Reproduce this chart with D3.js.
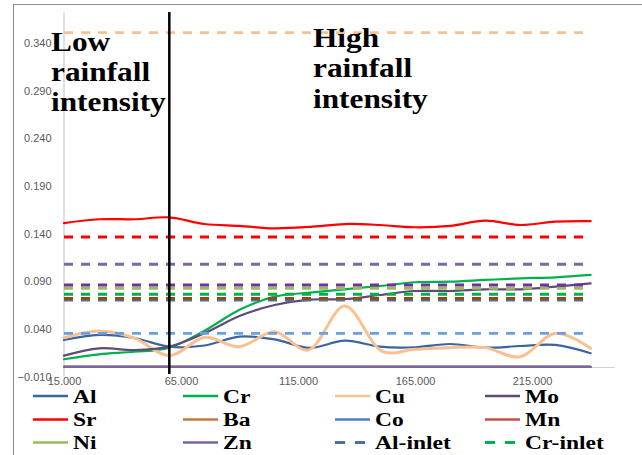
<!DOCTYPE html>
<html><head><meta charset="utf-8">
<script src="https://cdn.jsdelivr.net/npm/d3@7"></script>
<style>body{margin:0;background:#fff}svg{display:block}</style>
</head><body>
<svg id="chart" width="642" height="455"></svg>
<script>
// ---- data ----
const xValues = [15,30,45,60,75,90,105,120,135,150,165,180,195,210,225,240];
const Al = [0.0283,0.0336,0.0304,0.0213,0.0225,0.0318,0.0290,0.0200,0.0276,0.0213,0.0207,0.0241,0.0203,0.0220,0.0231,0.0144];
const Cr = [0.0081,0.0133,0.0160,0.0203,0.0380,0.0600,0.0738,0.0780,0.0815,0.0850,0.0889,0.0895,0.0913,0.0930,0.0940,0.0966];
const Cu = [0.0307,0.0378,0.0304,0.0119,0.0310,0.0213,0.0370,0.0182,0.0640,0.0178,0.0186,0.0203,0.0203,0.0108,0.0354,0.0196];
const Mo = [0.0119,0.0196,0.0178,0.0213,0.0354,0.0535,0.0650,0.0707,0.0712,0.0755,0.0797,0.0797,0.0815,0.0815,0.0843,0.0878];
const Sr = [0.1510,0.1550,0.1550,0.1570,0.1500,0.1480,0.1455,0.1470,0.1500,0.1490,0.1466,0.1480,0.1535,0.1490,0.1525,0.1530];
const Ba = [0,0,0,0,0,0,0,0,0,0,0,0,0,0,0,0];
const Co = [0,0,0,0,0,0,0,0,0,0,0,0,0,0,0,0];
const Mn = [0,0,0,0,0,0,0,0,0,0,0,0,0,0,0,0];
const Ni = [0,0,0,0,0,0,0,0,0,0,0,0,0,0,0,0];
const Zn = [0,0,0,0,0,0,0,0,0,0,0,0,0,0,0,0];
const seriesNames = ["Al","Cr","Cu","Mo","Sr","Ba","Co","Mn","Ni","Zn"];
const seriesValues = [Al,Cr,Cu,Mo,Sr,Ba,Co,Mn,Ni,Zn];
const inletNames = ["Al-inlet","Cr-inlet","Cu-inlet","Mo-inlet","Sr-inlet","Ba-inlet","Co-inlet","Ni-inlet","Zn-inlet"];
const inletValues = [0.0703,0.0763,0.3508,0.1078,0.1364,0.0720,0.0353,0.0826,0.0860];
const yTicks = [-0.010,0.040,0.090,0.140,0.190,0.240,0.290,0.340];
const xTicks = [15,65,115,165,215];
const legendNames = ["Al","Cr","Cu","Mo","Sr","Ba","Co","Mn","Ni","Zn","Al-inlet","Cr-inlet"];
const dividerX = 60;
const lowLabel = ["Low","rainfall","intensity"];
const highLabel = ["High","rainfall","intensity"];

// ---- styles ----
const colors = {
  "Al":"#3B64A0","Cr":"#00B050","Cu":"#FAC090","Mo":"#604A7B","Sr":"#FF0000",
  "Ba":"#C0783C","Co":"#4F81BD","Mn":"#C0504D","Ni":"#9BBB59","Zn":"#7E62A6",
  "Al-inlet":"#4A70AC","Cr-inlet":"#00B050","Cu-inlet":"#FAC090","Mo-inlet":"#7C68A0",
  "Sr-inlet":"#FF0000","Ba-inlet":"#984807","Co-inlet":"#6A9FE0","Ni-inlet":"#9BBB59","Zn-inlet":"#7030A0"
};
const widths = {"Cu":3};

const svg = d3.select("#chart");
svg.append("rect").attr("x",13.5).attr("y",4.5).attr("width",660).attr("height",480)
  .attr("fill","#fff").attr("stroke","#8c8c8c").attr("stroke-width",1);

const x = d3.scaleLinear().domain([15,250]).range([64,614]);
const y = d3.scaleLinear().domain([-0.01,0.3725]).range([376.5,12]);

// axes
const yAxis = svg.append("g").attr("transform","translate(63.5,0)")
  .call(d3.axisLeft(y).tickValues(yTicks).tickFormat(d3.format(".3f")).tickSize(0).tickPadding(12));
yAxis.select(".domain").attr("stroke","#BFBFBF");
yAxis.selectAll("text").attr("font-family","Liberation Sans, Arial, sans-serif").attr("font-size",11).attr("fill","#595959");

const xAxis = svg.append("g").attr("transform",`translate(0,${y(0)})`)
  .call(d3.axisBottom(x).tickValues(xTicks).tickFormat(d3.format(".3f")).tickSize(0).tickPadding(10));
xAxis.select(".domain").attr("stroke","#D0D0D0");
xAxis.selectAll("text").attr("font-family","Liberation Sans, Arial, sans-serif").attr("font-size",11).attr("fill","#595959");

// series
const line = d3.line().x((d,i)=>x(xValues[i])).y(d=>y(d)).curve(d3.curveCardinal.tension(0));
const plot = svg.append("g");
seriesNames.forEach((n,k)=>{
  plot.append("path").datum(seriesValues[k]).attr("d",line)
    .attr("fill","none").attr("stroke",colors[n]).attr("stroke-width",widths[n]||2.2)
    .attr("stroke-linecap","round");
});
const flat = d3.line().x(d=>x(d[0])).y(d=>y(d[1]));
inletNames.forEach((n,k)=>{
  plot.append("path").datum(xValues.map(xv=>[xv,inletValues[k]])).attr("d",flat)
    .attr("fill","none").attr("stroke",colors[n]).attr("stroke-width",2.8)
    .attr("stroke-dasharray","9,8");
});

// divider
svg.append("line").attr("x1",x(dividerX)).attr("x2",x(dividerX)).attr("y1",12).attr("y2",374)
  .attr("stroke","#000").attr("stroke-width",2.5);

// annotations
function label(lines, x0, baselines){
  const g = svg.append("g");
  lines.forEach((t,i)=>{
    g.append("text").attr("transform",`translate(${x0},${baselines[i]}) scale(1.16,1)`)
      .attr("font-family","Liberation Serif, Times New Roman, serif").attr("font-weight","bold")
      .attr("font-size",27).attr("fill","#000").text(t);
  });
}
label(lowLabel, 51, [50.5,80.5,110.5]);
label(highLabel, 313, [46.5,77,108]);

// legend
const legX = [33,183,335,485];
const legY = [396,419.5,442.5];
legendNames.forEach((n,i)=>{
  const c = i%4, r = Math.floor(i/4);
  const lx = legX[c], ly = legY[r];
  const dashed = n.endsWith("-inlet");
  svg.append("line").attr("x1",lx).attr("x2",lx+35).attr("y1",ly).attr("y2",ly)
    .attr("stroke",colors[n]).attr("stroke-width",dashed?2.8:2.5)
    .attr("stroke-dasharray",dashed?"10,10":null);
  svg.append("text").attr("transform",`translate(${lx+40},${ly+6.5}) scale(1.24,1)`)
    .attr("font-family","Liberation Serif, Times New Roman, serif").attr("font-weight","bold")
    .attr("font-size",19).attr("fill","#000").text(n);
});
</script>
</body></html>
